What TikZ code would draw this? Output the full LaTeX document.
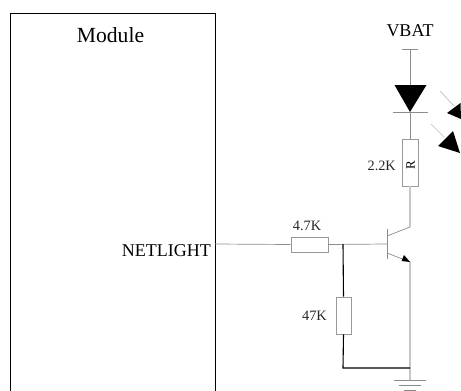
\documentclass[tikz,border=0pt]{standalone}
\usepackage{fontspec}
\setmainfont{Liberation Serif}
\begin{document}
\begin{tikzpicture}[x=1pt,y=-1pt,
  wire/.style={draw=black!45,line width=0.7pt},
  palewire/.style={draw=black!22,line width=1.4pt},
  darkwire/.style={draw=black,line width=1.1pt},
  resistor/.style={draw=black!40,fill=white,line width=0.8pt,inner sep=0pt,minimum width=#1},
  lbl/.style={inner sep=0pt,font=\fontsize{14.3}{16}\selectfont,text=black!85},
  led/.style={fill=black,draw=none}]
\useasboundingbox (0,0) rectangle (461,391);
\fill[white] (0,0) rectangle (461,391);
\path[draw=black,line width=0.9pt] (10,391) -- (10,13) -- (215,13) -- (215,391);
\node[inner sep=0pt,font=\fontsize{21.6}{24}\selectfont] (module) at (110.5,35) {Module};
\node[inner sep=0pt,anchor=east,font=\fontsize{18}{20}\selectfont] (netlight) at (211,251) {NETLIGHT};
\node[inner sep=0pt,font=\fontsize{18}{20}\selectfont] (vbat) at (410,31) {VBAT};
% coordinates
\coordinate (vtop) at (410,49);
\coordinate (dtop) at (410,85);
\coordinate (dtip) at (410,112);
\coordinate (pin) at (215,244);
\coordinate (base) at (387,244);
\coordinate (coll) at (410,227);
\coordinate (emit) at (410,262);
\coordinate (gnd) at (410,380);
\coordinate (junction) at (343,244);
\coordinate (corner) at (343,368);
\coordinate (tee) at (410,368);
% nodes
\node[resistor=16pt,minimum height=47pt] (r22) at (410,162.5) {};
\node[inner sep=0pt,rotate=90,font=\fontsize{13}{14}\selectfont] (rtext) at (410.5,165) {R};
\node[lbl,anchor=east] (l22) at (396,166) {2.2K};
\node[resistor=37pt,minimum height=15pt] (r47) at (309.5,244.5) {};
\node[lbl] (l47) at (307,226) {4.7K};
\node[resistor=15pt,minimum height=37pt] (r470) at (343.5,315.5) {};
\node[lbl,anchor=east] (l470) at (327,316) {47K};
% LED
\draw[wire] (402,49) -- (418,49);
\draw[wire] (vtop) -- (dtop);
\fill[led] (394.5,85) -- (426.5,85) -- (dtip) -- cycle;
\draw[wire] (393,112) -- (428,112);
\draw[wire] (dtip) -- (r22.north);
\draw[palewire] (r22.south) -- (coll);
\draw[wire,draw=black!25] (440,91) -- (454,106);
\draw[wire,draw=black!25] (431,124) -- (444,137);
\fill[led] (447,113) -- (460.5,103) -- (461,119) -- cycle;
\fill[led] (438,146) -- (453,131) -- (460,153) -- cycle;
% transistor
\draw[wire] (pin) -- (r47.west);
\draw[wire] (r47.east) -- (base);
\draw[wire] (387,229) -- (387,259);
\draw[wire] (387,236) -- (coll);
\draw[wire] (387,253) -- (emit);
\fill[led] (410,262) -- (404,255) -- (401.5,261) -- cycle;
\draw[palewire] (emit) -- (gnd);
% divider
\draw[darkwire] (junction) -- (r470.north);
\draw[darkwire] (r470.south) -- (corner) -- (tee);
% ground
\draw[wire] (394,380) -- (426,380);
\draw[wire] (399,385) -- (421,385);
\draw[wire] (404,390) -- (416,390);
\end{tikzpicture}
\end{document}
